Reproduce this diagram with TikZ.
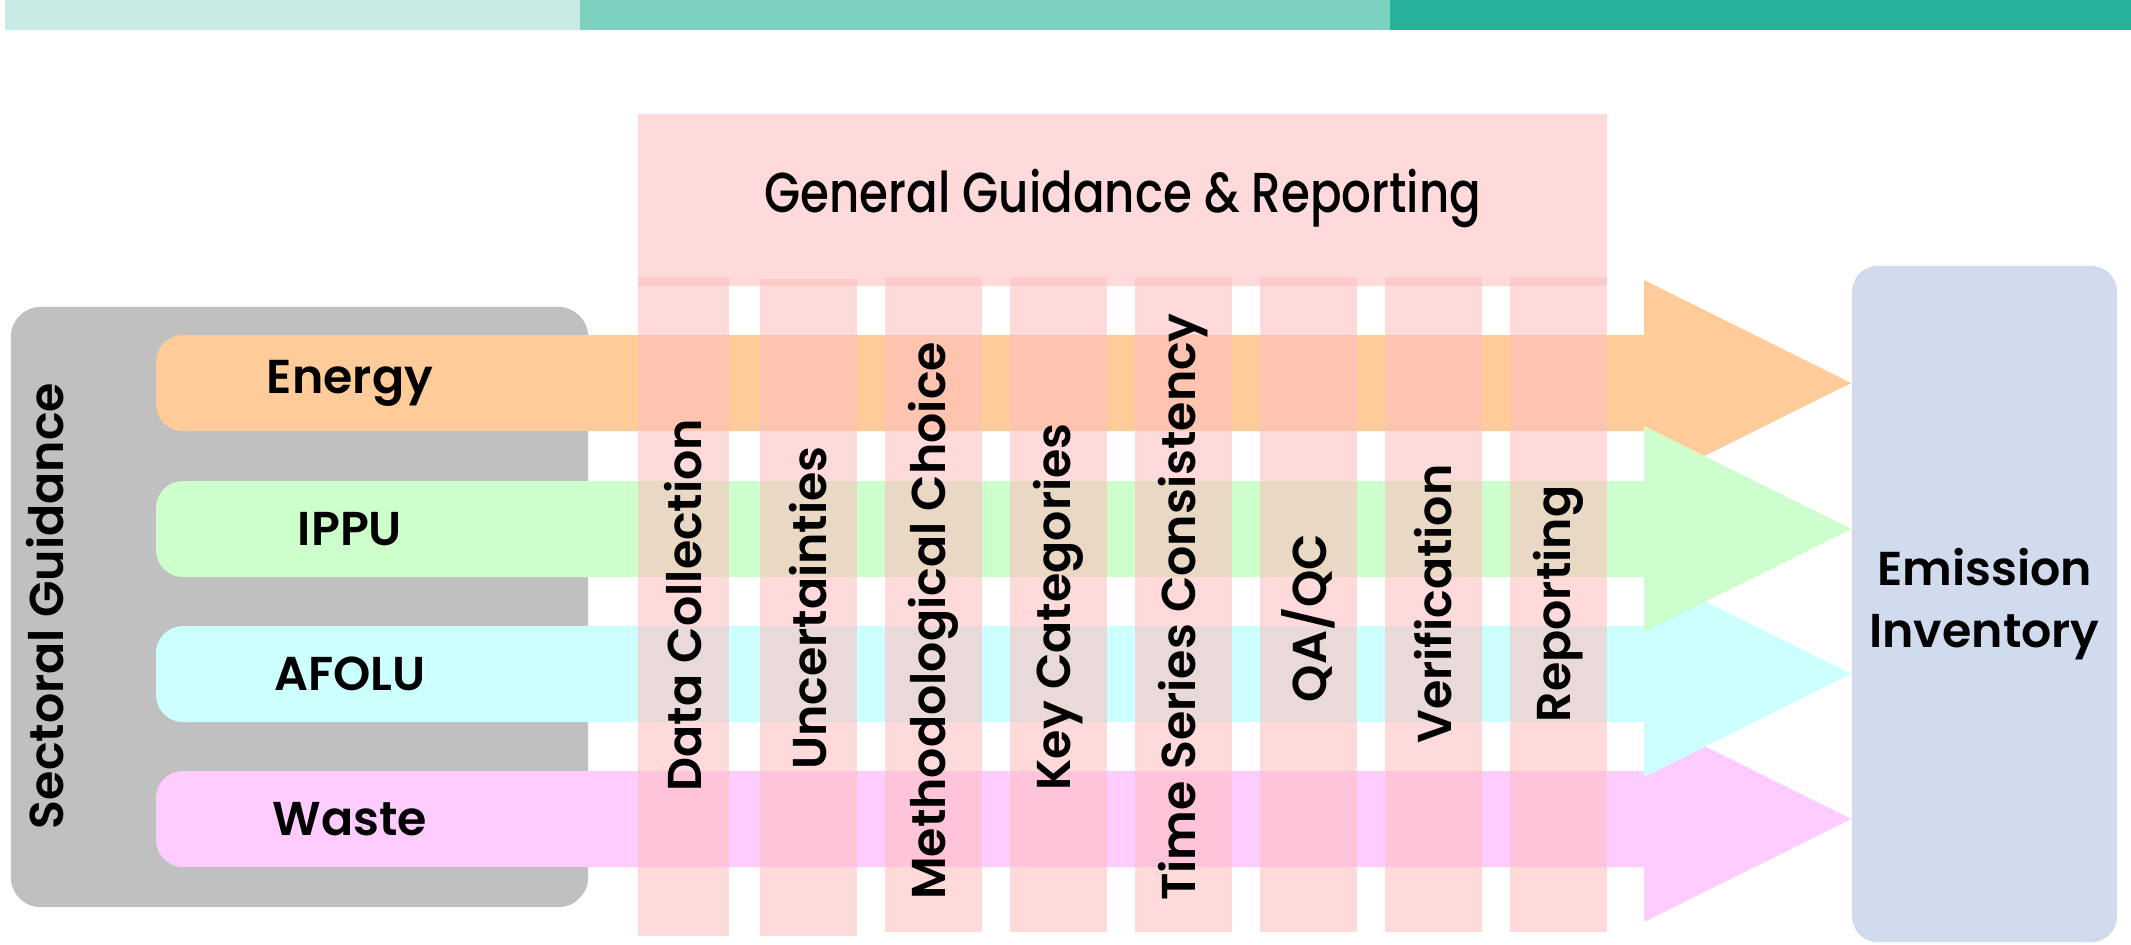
\documentclass[tikz,border=0pt]{standalone}
\usepackage{fontspec}
\setmainfont{Poppins}[BoldFont={Poppins SemiBold}]
\newfontfamily\titlefont{Poppins Medium}
\usetikzlibrary{calc}

\definecolor{striplight}{HTML}{C8EBE5}
\definecolor{stripmid}{HTML}{7BD0C0}
\definecolor{stripdark}{HTML}{26B29A}
\definecolor{sectgrey}{HTML}{C0C0C0}
\definecolor{emisblue}{HTML}{D0DBED}
\definecolor{energyc}{HTML}{FFCC99}
\definecolor{ippuc}{HTML}{CCFFCC}
\definecolor{afoluc}{HTML}{CCFFFF}
\definecolor{wastec}{HTML}{FFCCFF}
\definecolor{guidepink}{HTML}{FFBFBF}

\tikzset{
  lbl/.style={font=\bfseries\fontsize{13.5}{17.5}\selectfont},
  colbox/.style={fill=guidepink, fill opacity=0.58, inner sep=0pt},
  collbl/.style={lbl, rotate=90, inner sep=0pt},
}

\begin{document}
\begin{tikzpicture}[x=0.01cm,y=-0.01cm]
\useasboundingbox (0,0) rectangle (2131,944);

% top strip
\fill[striplight] (5,0) rectangle (580,30);
\fill[stripmid] (580,0) rectangle (1390,30);
\fill[stripdark] (1390,0) rectangle (2131,30);

% sectoral guidance
\node[fill=sectgrey, rounded corners=0.3cm, minimum width=5.77cm, minimum height=6cm] (sect) at (299.5,607) {};
\node[collbl] (secttxt) at (45,606) {Sectoral Guidance};

% emission inventory
\node[lbl, fill=emisblue, rounded corners=0.26cm, minimum width=2.65cm, minimum height=6.76cm, align=center] (emis) at (1984.5,604) {Emission\\Inventory};

\coordinate (ecen) at (350,383);
\coordinate (icen) at (350,529);
\coordinate (acen) at (350,674);
\coordinate (wcen) at (350,819);

% sector arrows
\fill[wastec] (1644,771) -- (1644,716) -- (emis.west |- wcen) -- (1644,922) -- (1644,867) -- (300,867) [rounded corners=0.27cm] -- (156,867) -- (156,771) -- (300,771) [sharp corners] -- cycle;
\fill[afoluc] (1644,626) -- (1644,571) -- (emis.west |- acen) -- (1644,777) -- (1644,722) -- (300,722) [rounded corners=0.27cm] -- (156,722) -- (156,626) -- (300,626) [sharp corners] -- cycle;
\fill[energyc] (1644,335) -- (1644,280) -- (emis.west |- ecen) -- (1644,486) -- (1644,431) -- (300,431) [rounded corners=0.27cm] -- (156,431) -- (156,335) -- (300,335) [sharp corners] -- cycle;
\fill[ippuc] (1644,481) -- (1644,426) -- (emis.west |- icen) -- (1644,632) -- (1644,577) -- (300,577) [rounded corners=0.27cm] -- (156,577) -- (156,481) -- (300,481) [sharp corners] -- cycle;

\node[lbl] (energy) at (ecen) {Energy};
\node[lbl] (ippu) at (icen) {IPPU};
\node[lbl] (afolu) at (acen) {AFOLU};
\node[lbl] (waste) at (wcen) {Waste};

% general guidance & reporting
\node[colbox, minimum width=9.69cm, minimum height=1.72cm] (gen) at (1122.5,200) {};
\node[font=\titlefont\fontsize{16}{19}\selectfont] (gentxt) at (1123,198) {\scalebox{0.83}[1]{General Guidance \& Reporting}};

\node[colbox, minimum width=0.91cm, minimum height=6.59cm] (c1) at (683.5,606.5) {};
\node[colbox, minimum width=0.97cm, minimum height=6.57cm] (c2) at (808.5,607.5) {};
\node[colbox, minimum width=0.97cm, minimum height=6.55cm] (c3) at (933.5,604.5) {};
\node[colbox, minimum width=0.97cm, minimum height=6.55cm] (c4) at (1058.5,604.5) {};
\node[colbox, minimum width=0.97cm, minimum height=6.55cm] (c5) at (1183.5,604.5) {};
\node[colbox, minimum width=0.97cm, minimum height=6.55cm] (c6) at (1308.5,604.5) {};
\node[colbox, minimum width=0.97cm, minimum height=6.55cm] (c7) at (1433.5,604.5) {};
\node[colbox, minimum width=0.97cm, minimum height=6.55cm] (c8) at (1558.5,604.5) {};

\node[collbl] (c1txt) at (683.5,605) {Data Collection};
\node[collbl] (c2txt) at (808.5,608) {Uncertainties};
\node[collbl] (c3txt) at (933.5,621) {Methodological Choice};
\node[collbl] (c4txt) at (1058.5,607) {Key Categories};
\node[collbl] (c5txt) at (1183.5,607) {Time Series Consistency};
\node[collbl] (c6txt) at (1308.5,618) {QA/QC};
\node[collbl] (c7txt) at (1433.5,604) {Verification};
\node[collbl] (c8txt) at (1558.5,604) {Reporting};

\end{tikzpicture}
\end{document}
